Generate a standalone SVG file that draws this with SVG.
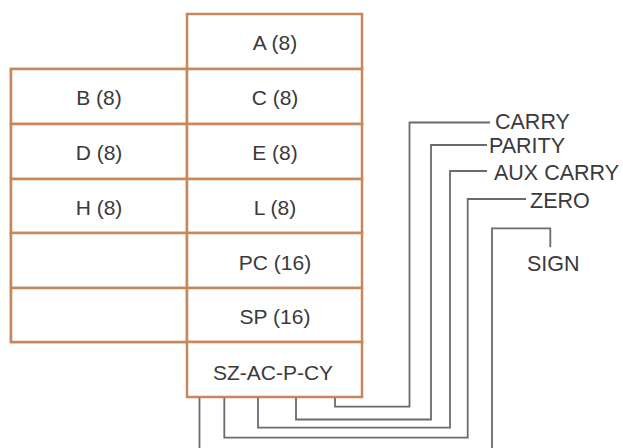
<svg xmlns="http://www.w3.org/2000/svg" width="623" height="448" viewBox="0 0 623 448">
<style>
.box{fill:#ffffff;stroke:#c8875a;stroke-width:2.5}
.lbl{font-family:"Liberation Sans",Arial,sans-serif;font-size:21px;fill:#3a3a3a;text-anchor:middle}
.flag{font-family:"Liberation Sans",Arial,sans-serif;font-size:21.5px;fill:#3a3a3a}
.wire{fill:none;stroke:#6b6b6b;stroke-width:1.8}
</style>
<rect width="623" height="448" fill="#ffffff"/>
<g id="left-column">
<rect class="box" x="11" y="69" width="176" height="273"/>
</g>
<g id="regA"><rect class="box" x="187" y="14" width="175" height="55"/><text class="lbl" x="275" y="50">A (8)</text></g>
<g id="regB"><rect class="box" x="11" y="69" width="176" height="55"/><text class="lbl" x="99" y="105">B (8)</text></g>
<g id="regC"><rect class="box" x="187" y="69" width="175" height="55"/><text class="lbl" x="275" y="105">C (8)</text></g>
<g id="regD"><rect class="box" x="11" y="124" width="176" height="55"/><text class="lbl" x="99" y="160">D (8)</text></g>
<g id="regE"><rect class="box" x="187" y="124" width="175" height="55"/><text class="lbl" x="275" y="160">E (8)</text></g>
<g id="regH"><rect class="box" x="11" y="179" width="176" height="54"/><text class="lbl" x="99" y="215">H (8)</text></g>
<g id="regL"><rect class="box" x="187" y="179" width="175" height="54"/><text class="lbl" x="275" y="215">L (8)</text></g>
<g id="blank1"><rect class="box" x="11" y="233" width="176" height="55"/></g>
<g id="regPC"><rect class="box" x="187" y="233" width="175" height="55"/><text class="lbl" x="275" y="270">PC (16)</text></g>
<g id="blank2"><rect class="box" x="11" y="288" width="176" height="54"/></g>
<g id="regSP"><rect class="box" x="187" y="288" width="175" height="54"/><text class="lbl" x="275" y="324">SP (16)</text></g>
<g id="regFlags"><rect class="box" x="187" y="342" width="175" height="55"/><text class="lbl" x="273" y="380">SZ-AC-P-CY</text></g>
<g id="connectors">
<polyline class="wire" points="335,398 335,406.7 409.5,406.7 409.5,122.5 490,122.5"/>
<polyline class="wire" points="296,398 296,419.5 431,419.5 431,145 487,145"/>
<polyline class="wire" points="258,398 258,427.7 450,427.7 450,171 487,171"/>
<polyline class="wire" points="224.3,398 224.3,437.7 467.7,437.7 467.7,199 526,199"/>
<polyline class="wire" points="199.5,398 199.5,448"/>
<polyline class="wire" points="492,448 492,228.3 550.3,228.3 550.3,247.3"/>
</g>
<g id="flag-labels">
<text class="flag" x="495" y="128.5">CARRY</text>
<text class="flag" x="489" y="152.5">PARITY</text>
<text class="flag" x="494" y="180">AUX CARRY</text>
<text class="flag" x="530" y="208">ZERO</text>
<text class="flag" x="527" y="271">SIGN</text>
</g>
</svg>
